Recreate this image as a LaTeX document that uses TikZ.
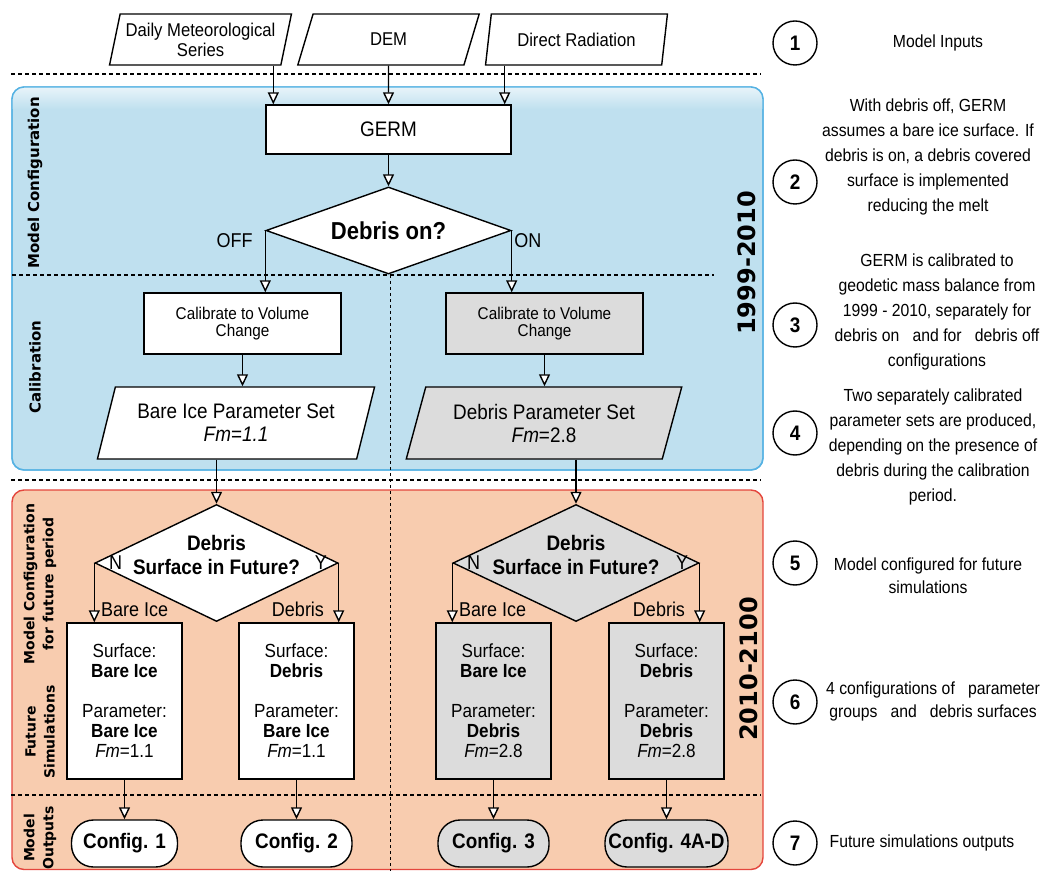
\documentclass[tikz,border=0pt]{standalone}
\usepackage{fontspec}
\setmainfont{Liberation Sans}[FakeStretch=0.9]
\newfontfamily\labelfont{DejaVu Sans}
\usetikzlibrary{shapes.geometric,arrows.meta,positioning}
\definecolor{calblue}{HTML}{BFE0EF}
\definecolor{calborder}{HTML}{55B2E3}
\definecolor{futred}{HTML}{F8CCAF}
\definecolor{futborder}{HTML}{E4463D}
\definecolor{boxgray}{HTML}{DCDCDC}

\begin{document}
\begin{tikzpicture}[x=1pt, y=1pt, line width=1.4pt,
    >={Triangle[fill=white, length=12pt, width=11pt]}]
    \tikzstyle{block} = [draw, fill=white, rectangle, align=center, inner sep=2pt]
    \tikzstyle{io} = [draw, fill=white, trapezium, trapezium stretches=true,
    align=center, inner sep=0pt]
    \tikzstyle{input} = [io, trapezium left angle=73.6, trapezium right angle=106.4,
    minimum width=182pt, minimum height=51pt, font=\fontsize{18.5}{20}\selectfont]
    \tikzstyle{decision} = [draw, fill=white, diamond, aspect=2.5, inner sep=0pt, align=center]
    \tikzstyle{terminal} = [draw, fill=white, rectangle, rounded corners=22pt,
    minimum height=47pt, inner sep=2pt, font=\fontsize{21}{24}\selectfont\bfseries]
    \tikzstyle{lbl} = [inner sep=0pt, font=\fontsize{20}{22}\selectfont]
    \tikzstyle{phase} = [rotate=90, align=center, inner sep=0pt,
    font=\labelfont\bfseries\fontsize{15}{19}\selectfont]
    \tikzstyle{period} = [rotate=90, inner sep=0pt, font=\labelfont\bfseries\fontsize{24}{26}\selectfont]
    \tikzstyle{numcircle} = [draw, circle, minimum size=44pt, inner sep=0pt,
    font=\fontsize{21}{22}\selectfont\bfseries]
    \tikzstyle{note} = [align=center, inner sep=0pt, font=\fontsize{17.5}{25}\selectfont]
    \tikzstyle{sep} = [dash pattern=on 4pt off 3pt, line width=1.5pt]
    \tikzstyle{simbox} = [block, minimum width=115pt, minimum height=156pt,
    font=\fontsize{19}{20}\selectfont]
    \useasboundingbox (0,0) rectangle (1043,871);

    % period panels
    \draw [calborder, fill=calblue, rounded corners=12pt] (12,401) rectangle (763,784);
    \begin{scope}
        \clip [rounded corners=12pt] (12,401) rectangle (763,784);
        \shade [top color=calblue!35!white, bottom color=calblue] (12,762) rectangle (763,784);
    \end{scope}
    \draw [calborder, rounded corners=12pt] (12,401) rectangle (763,784);
    \draw [futborder, fill=futred, rounded corners=12pt] (12,1.5) rectangle (763,381);
    \draw [sep] (11,797) -- (761,797);
    \draw [sep] (12,596) -- (714,596);
    \draw [sep] (11,391) -- (761,391);
    \draw [sep] (11,76) -- (761,76);
    \draw [dash pattern=on 3pt off 3pt, line width=1pt] (390,596) -- (390,0);

    % inputs
    \node [input] (daily) at (200.5,831.5) {Daily Meteorological\\Series};
    \node [input] (dem) at (388.5,831.5) {DEM};
    \node [input] (direct) at (576.5,831.5) {Direct Radiation};

    % 1999-2010
    \node [block, minimum width=245pt, minimum height=49pt, font=\fontsize{21}{22}\selectfont]
    (germ) at (388.5,741.5) {GERM};
    \node [decision, minimum width=245pt, minimum height=87pt,
    font=\fontsize{24.5}{26}\selectfont\bfseries] (debris) at (388.5,640.5) {Debris on?};
    \node [block, minimum width=197pt, minimum height=61pt, font=\fontsize{17}{17}\selectfont]
    (cal1) at (242.5,547.5) {Calibrate to Volume\\Change};
    \node [block, fill=boxgray, minimum width=197pt, minimum height=61pt,
    font=\fontsize{17}{17}\selectfont, right of=cal1, node distance=302pt]
    (cal2) {Calibrate to Volume\\Change};
    \node [io, trapezium left angle=68.7, trapezium right angle=111.3, minimum width=278pt,
    minimum height=72pt, font=\fontsize{21}{23}\selectfont] (par1) at (236,448)
    {Bare Ice Parameter Set\\\textit{Fm=1.1}};
    \node [io, fill=boxgray, trapezium left angle=68.7, trapezium right angle=111.3,
    minimum width=276pt, minimum height=72pt, font=\fontsize{21}{23}\selectfont]
    (par2) at (544,448) {Debris Parameter Set\\\textit{Fm}=2.8};
    \node [lbl, anchor=north east] (off) at ([xshift=-12pt,yshift=-2pt]debris.west) {OFF};
    \node [lbl, anchor=north west] (on) at ([xshift=2pt,yshift=-2pt]debris.east) {ON};

    % 2010-2100
    \node [decision, minimum width=243pt, minimum height=117pt] (fut1) at (216.5,308) {};
    \node [decision, fill=boxgray, minimum width=246pt, minimum height=117pt]
    (fut2) at (576,308) {};
    \node [align=center, font=\fontsize{21}{24}\selectfont\bfseries]
    (q1) at ([yshift=8pt]fut1) {Debris\\Surface in Future?};
    \node [align=center, font=\fontsize{21}{24}\selectfont\bfseries]
    (q2) at ([yshift=8pt]fut2) {Debris\\Surface in Future?};
    \node [lbl, anchor=west] (n1) at ([xshift=14pt]fut1.west) {N};
    \node [lbl, anchor=east] (y1) at ([xshift=-11pt]fut1.east) {Y};
    \node [lbl, anchor=west] (n2) at ([xshift=14pt]fut2.west) {N};
    \node [lbl, anchor=east] (y2) at ([xshift=-11pt]fut2.east) {Y};

    \node [simbox] (box1) at (124.5,170)
    {Surface:\\\textbf{Bare Ice}\\[20pt]Parameter:\\\textbf{Bare Ice}\\\textit{Fm}=1.1};
    \node [simbox, right of=box1, node distance=172pt]
    (box2) {Surface:\\\textbf{Debris}\\[20pt]Parameter:\\\textbf{Bare Ice}\\\textit{Fm}=1.1};
    \node [simbox, fill=boxgray, right of=box2, node distance=197pt]
    (box3) {Surface:\\\textbf{Bare Ice}\\[20pt]Parameter:\\\textbf{Debris}\\\textit{Fm}=2.8};
    \node [simbox, fill=boxgray, right of=box3, node distance=173pt]
    (box4) {Surface:\\\textbf{Debris}\\[20pt]Parameter:\\\textbf{Debris}\\\textit{Fm}=2.8};

    \node [terminal, minimum width=106pt, below of=box1, node distance=142.5pt] (cfg1) {Config. 1};
    \node [terminal, minimum width=111pt, below of=box2, node distance=142.5pt] (cfg2) {Config. 2};
    \node [terminal, fill=boxgray, minimum width=111pt, below of=box3, node distance=142.5pt]
    (cfg3) {Config. 3};
    \node [terminal, fill=boxgray, minimum width=123pt, below of=box4, node distance=142.5pt]
    (cfg4) {Config. 4A-D};

    \node [lbl, anchor=base west] (bi1) at ([xshift=6pt,yshift=6pt]fut1.west |- box1.north) {Bare Ice};
    \node [lbl, anchor=base east] (db1) at ([xshift=-14pt,yshift=6pt]fut1.east |- box2.north) {Debris};
    \node [lbl, anchor=base west] (bi2) at ([xshift=6pt,yshift=6pt]fut2.west |- box3.north) {Bare Ice};
    \node [lbl, anchor=base east] (db2) at ([xshift=-14pt,yshift=6pt]fut2.east |- box4.north) {Debris};

    % connectors
    \draw [->] ([xshift=8pt]germ.north west |- daily.south) -- ([xshift=8pt]germ.north west);
    \draw [->] (dem) -- (germ);
    \draw [->] ([xshift=-7pt]germ.north east |- direct.south) -- ([xshift=-7pt]germ.north east);
    \draw [->] (germ) -- (debris);
    \draw [->] (debris.west) -- (debris.west |- cal1.north);
    \draw [->] (debris.east) -- (debris.east |- cal2.north);
    \draw [->] (cal1.south) -- (cal1.south |- par1.north);
    \draw [->] (cal2.south) -- (cal2.south |- par2.north);
    \draw [->] (fut1.north |- par1.south) -- (fut1.north);
    \draw [->] (fut2.north |- par2.south) -- (fut2.north);
    \draw [->] (fut1.west) -- (fut1.west |- box1.north);
    \draw [->] (fut1.east) -- (fut1.east |- box2.north);
    \draw [->] (fut2.west) -- (fut2.west |- box3.north);
    \draw [->] (fut2.east) -- (fut2.east |- box4.north);
    \foreach \i in {1,...,4}
        \draw [->] (box\i) -- (cfg\i);

    % side labels
    \node [phase] (lmc) at (35,688) {Model Configuration};
    \node [phase] (lcal) at (35,504) {Calibration};
    \node [phase, font=\labelfont\bfseries\fontsize{14}{19}\selectfont] (lfut) at (40,287)
    {Model Configuration\\for future period};
    \node [phase, font=\labelfont\bfseries\fontsize{14}{19}\selectfont] (lsim) at (40,139)
    {Future\\Simulations};
    \node [phase, font=\labelfont\bfseries\fontsize{14}{19}\selectfont] (lout) at (40,33)
    {Model\\Outputs};
    \node [period] (p1) at (747,608) {1999-2010};
    \node [period] (p2) at (749,202) {2010-2100};

    % explanations
    \foreach \n/\y in {1/828, 2/689, 3/546, 4/438, 5/308, 6/169, 7/28}
        \node [numcircle] (c\n) at (795,\y) {\n};
    \node [note] (t1) at (938,828) {Model Inputs};
    \node [note] (t2) at (928,714) {With debris off, GERM\\assumes a bare ice surface. If\\debris is on, a debris covered\\surface is implemented\\reducing the melt};
    \node [note] (t3) at (937,559.5) {GERM is calibrated to\\geodetic mass balance from\\1999 - 2010, separately for\\debris on\ \ \ and for\ \ \ debris off\\configurations};
    \node [note] (t4) at (933,424) {Two separately calibrated\\parameter sets are produced,\\depending on the presence of\\debris during the calibration\\period.};
    \node [note, font=\fontsize{17.5}{23}\selectfont] (t5) at (928,295) {Model configured for future\\simulations};
    \node [note, font=\fontsize{17.5}{23}\selectfont] (t6) at (933,169.5) {4 configurations of\ \ \ parameter\\groups\ \ \ and\ \ \ debris surfaces};
    \node [note] (t7) at (922,28) {Future simulations outputs};
\end{tikzpicture}
\end{document}
